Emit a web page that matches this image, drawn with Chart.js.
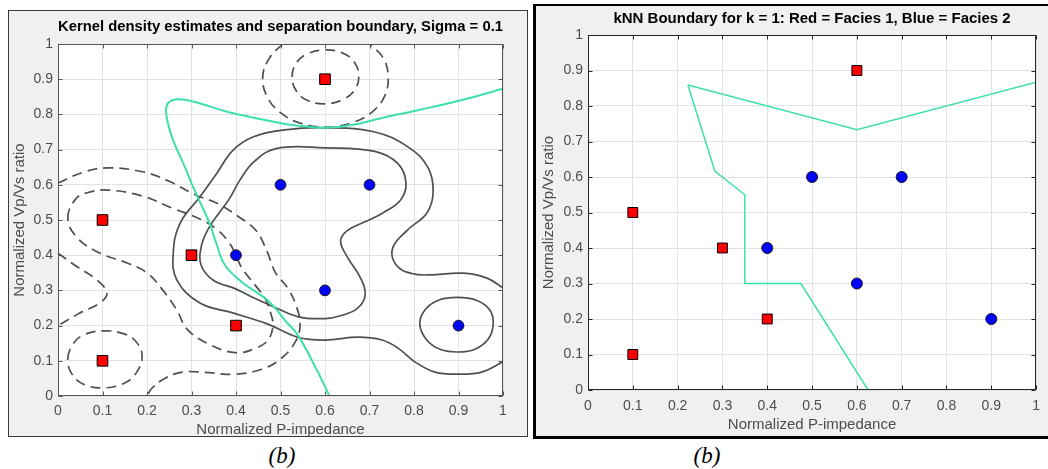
<!DOCTYPE html>
<html><head><meta charset="utf-8">
<script src="https://cdn.jsdelivr.net/npm/chart.js@4.4.1/dist/chart.umd.min.js"></script>
<style>
html,body{margin:0;padding:0;background:#fff;width:1048px;height:469px;overflow:hidden;position:relative;font-family:"Liberation Sans",Arial,sans-serif;}
#panelL{position:absolute;left:8px;top:10px;width:518px;height:425px;background:#f0f0f0;border:1px solid #3a3a3a;}
#panelR{position:absolute;left:533px;top:4px;width:520px;height:430px;background:#f0f0f0;border:2px solid #000;border-left-width:3px;border-bottom-width:3px;}
canvas{position:absolute;left:0;top:0;}
.cap{position:absolute;top:443px;line-height:26px;font-family:"Liberation Serif","Times New Roman",serif;font-style:italic;font-size:23px;color:#000;transform:translateX(-50%);white-space:nowrap;}
</style></head>
<body>
<div id="panelL"><canvas id="cL" width="518" height="425"></canvas></div>
<div id="panelR"><canvas id="cR" width="512" height="430"></canvas></div>
<div class="cap" style="left:282px">(b)</div>
<div class="cap" style="left:707px">(b)</div>
<script>
// ---------- data ----------
const xTickLabels = ['0','0.1','0.2','0.3','0.4','0.5','0.6','0.7','0.8','0.9','1'];
const yTickLabels = ['0','0.1','0.2','0.3','0.4','0.5','0.6','0.7','0.8','0.9','1'];
const facies1X = [0.1, 0.3, 0.4, 0.1, 0.6];
const facies1Y = [0.5, 0.4, 0.2, 0.1, 0.9];
const facies2X = [0.4, 0.5, 0.7, 0.6, 0.9];
const facies2Y = [0.4, 0.6, 0.6, 0.3, 0.2];

// KDE boundary (left panel)
const kdeBoundary = [[0.61,0],[0.584,0.068],[0.539,0.173],[0.51,0.215],[0.488,0.25],[0.465,0.278],[0.413,0.324],[0.375,0.372],[0.357,0.429],[0.342,0.486],[0.325,0.535],[0.305,0.59],[0.285,0.651],[0.256,0.736],[0.243,0.805],[0.248,0.833],[0.27,0.843],[0.308,0.835],[0.382,0.807],[0.443,0.79],[0.51,0.773],[0.548,0.767],[0.6,0.762],[0.661,0.77],[0.728,0.79],[0.809,0.812],[0.908,0.841],[1.0,0.873]];

// Facies 2 density contours (solid)
const f2Outer = [[1.0,0.307],[0.964,0.335],[0.91,0.349],[0.836,0.344],[0.795,0.348],[0.76,0.372],[0.752,0.42],[0.784,0.47],[0.829,0.52],[0.843,0.58],[0.831,0.65],[0.787,0.707],[0.712,0.75],[0.6,0.762],[0.51,0.756],[0.438,0.736],[0.393,0.698],[0.357,0.633],[0.319,0.566],[0.274,0.49],[0.259,0.406],[0.267,0.33],[0.319,0.264],[0.393,0.236],[0.47,0.205],[0.539,0.167],[0.6,0.159],[0.674,0.167],[0.728,0.159],[0.764,0.136],[0.802,0.097],[0.847,0.068],[0.9,0.062],[0.952,0.068],[1.0,0.097]];
const f2Inner = [[0.49,0.703],[0.6,0.705],[0.712,0.695],[0.764,0.66],[0.782,0.605],[0.77,0.557],[0.73,0.52],[0.69,0.495],[0.65,0.47],[0.635,0.44],[0.65,0.395],[0.68,0.335],[0.69,0.285],[0.672,0.248],[0.635,0.228],[0.6,0.22],[0.54,0.225],[0.477,0.258],[0.43,0.285],[0.398,0.305],[0.35,0.328],[0.322,0.37],[0.322,0.425],[0.34,0.48],[0.362,0.52],[0.385,0.56],[0.409,0.614],[0.44,0.665]];
const f2Small = [[0.813,0.205],[0.825,0.245],[0.855,0.272],[0.897,0.28],[0.94,0.272],[0.97,0.245],[0.978,0.205],[0.967,0.162],[0.937,0.133],[0.9,0.125],[0.86,0.132],[0.828,0.16]];

// Facies 1 density contours (dashed)
const f1TopInner = [[0.526,0.906],[0.535,0.945],[0.56,0.972],[0.6,0.983],[0.64,0.974],[0.666,0.948],[0.676,0.91],[0.667,0.87],[0.64,0.842],[0.6,0.83],[0.56,0.84],[0.535,0.868]];
const f1TopOuter = [[0.505,1.0],[0.475,0.96],[0.46,0.906],[0.47,0.85],[0.5,0.805],[0.545,0.775],[0.602,0.764],[0.66,0.776],[0.705,0.806],[0.734,0.852],[0.742,0.91],[0.73,0.962],[0.70,1.0]];
const f1LowLeft = [[0.022,0.107],[0.035,0.15],[0.06,0.175],[0.1,0.185],[0.145,0.178],[0.175,0.155],[0.189,0.115],[0.178,0.07],[0.15,0.037],[0.1,0.023],[0.055,0.035],[0.03,0.065]];
const f1MidInner = [[0.022,0.505],[0.04,0.56],[0.067,0.578],[0.112,0.585],[0.19,0.568],[0.256,0.534],[0.324,0.5],[0.36,0.47],[0.385,0.435],[0.40,0.40],[0.413,0.364],[0.443,0.315],[0.465,0.278],[0.478,0.235],[0.483,0.2],[0.472,0.159],[0.443,0.135],[0.398,0.123],[0.335,0.15],[0.29,0.19],[0.267,0.244],[0.236,0.3],[0.2,0.35],[0.155,0.378],[0.094,0.406],[0.043,0.45]];
const f1MidOuter = [[0,0.605],[0.055,0.635],[0.11,0.648],[0.19,0.637],[0.25,0.61],[0.308,0.572],[0.36,0.546],[0.405,0.51],[0.445,0.47],[0.47,0.41],[0.488,0.352],[0.517,0.305],[0.537,0.25],[0.544,0.2],[0.533,0.153],[0.50,0.105],[0.458,0.076],[0.398,0.062],[0.33,0.067],[0.279,0.068],[0.24,0.05],[0.211,0.022],[0.2,0.0]];
const f1LeftEdge = [[0,0.406],[0.043,0.367],[0.087,0.33],[0.11,0.293],[0.094,0.264],[0.049,0.236],[0,0.2]];

// kNN boundary (right panel)
const knnUpper = [[0.223,0.859],[0.6,0.733],[1.0,0.867]];
const knnLower = [[0.223,0.859],[0.283,0.617],[0.35,0.55],[0.35,0.3],[0.475,0.3],[0.625,0]];

// ---------- helpers ----------
const FONT = '"Liberation Sans", Arial, sans-serif';
const toXY = arr => arr.map(p => ({x: p[0], y: p[1]}));
const zipXY = (xs, ys) => xs.map((x, i) => ({x, y: ys[i]}));
const CYAN = '#3edfae';
const GRAY = '#4d4d4d';

const loopPlugin = {
  id: 'loopClose',
  afterDatasetUpdate(chart, args) {
    const ds = chart.data.datasets[args.index];
    if (ds.closed) {
      const line = args.meta.dataset;
      line._loop = true; line._fullLoop = true;
      line._segments = undefined; line._pointsUpdated = false; line._path = undefined;
    }
  }
};
const framePlugin = {
  id: 'frame',
  beforeDraw(chart) {
    const {ctx, chartArea: a} = chart;
    ctx.save(); ctx.fillStyle = '#fff';
    ctx.fillRect(a.left, a.top, a.right - a.left, a.bottom - a.top); ctx.restore();
  },
  afterDatasetsDraw(chart, args, o) {
    const {ctx, chartArea: a, scales: {x, y}} = chart;
    const L = Math.round(a.left) + 0.5, R = Math.round(a.right) - 0.5;
    const T = Math.round(a.top) + 0.5, B = Math.round(a.bottom) - 0.5;
    ctx.save(); ctx.strokeStyle = o.color; ctx.lineWidth = o.width; ctx.beginPath();
    x.ticks.forEach(t => { const p = Math.round(x.getPixelForValue(t.value)) + 0.5;
      ctx.moveTo(p, B); ctx.lineTo(p, B - o.len); ctx.moveTo(p, T); ctx.lineTo(p, T + o.len); });
    y.ticks.forEach(t => { const p = Math.round(y.getPixelForValue(t.value)) + 0.5;
      ctx.moveTo(L, p); ctx.lineTo(L + o.len, p); ctx.moveTo(R, p); ctx.lineTo(R - o.len, p); });
    ctx.stroke();
    ctx.strokeRect(L, T, R - L, B - T);
    ctx.restore();
  }
};

function lineDs(data, color, width, dash, closed, tension) {
  return {data: toXY(data), showLine: true, pointRadius: 0, borderColor: color, borderWidth: width,
    borderDash: dash || [], tension: tension, closed: closed, clip: 0, fill: false};
}

function makeChart(id, cfg) {
  return new Chart(document.getElementById(id), {
    type: 'scatter',
    data: {datasets: cfg.datasets},
    plugins: [loopPlugin, framePlugin],
    options: {
      responsive: false, animation: false, events: [],
      layout: {padding: cfg.pad},
      plugins: {
        legend: {display: false}, tooltip: {enabled: false},
        title: {display: true, text: cfg.title, fullSize: false, color: '#000',
          font: {family: FONT, size: 15, weight: 'bold'}, padding: cfg.titlePad},
        frame: {color: cfg.axisColor, width: 1, len: 4}
      },
      scales: {
        x: {type: 'linear', min: 0, max: 1,
          afterFit: s => { s.height = cfg.xH; },
          grid: {color: '#e2e2e2', drawTicks: false}, border: {display: false},
          ticks: {stepSize: 0.1, maxRotation: 0, autoSkip: false, padding: cfg.xTickPad, color: GRAY,
            font: {family: FONT, size: 14}, callback: (v, i) => xTickLabels[i]},
          title: {display: true, text: 'Normalized P-impedance', color: GRAY,
            font: {family: FONT, size: 15}, padding: {top: 0, bottom: cfg.xTitlePad}}},
        y: {type: 'linear', min: 0, max: 1,
          afterFit: s => { s.width = cfg.yW; },
          grid: {color: '#e2e2e2', drawTicks: false}, border: {display: false},
          ticks: {stepSize: 0.1, autoSkip: false, padding: 5, color: GRAY,
            font: {family: FONT, size: 14}, callback: (v, i) => yTickLabels[i]},
          title: {display: true, text: 'Normalized Vp/Vs ratio', color: GRAY,
            font: {family: FONT, size: 15}, padding: {top: cfg.yTitlePad, bottom: 0}}}
      }
    }
  });
}

const redSquares = (r) => ({data: zipXY(facies1X, facies1Y), pointStyle: 'rect', pointRadius: r,
  backgroundColor: '#ff0000', borderColor: '#000', borderWidth: 1, showLine: false});
const blueDots = (r) => ({data: zipXY(facies2X, facies2Y), pointStyle: 'circle', pointRadius: r,
  backgroundColor: '#0000ff', borderColor: '#1a1a1a', borderWidth: 1, showLine: false});

const DASH = [10, 6];
const CG = '#505050';
makeChart('cL', {
  title: 'Kernel density estimates and separation boundary, Sigma = 0.1',
  pad: {left: 0, right: 24, top: 0, bottom: 0}, titlePad: {top: 7, bottom: 8},
  xH: 40, yW: 49, xTickPad: 7, xTitlePad: -3, yTitlePad: 2, axisColor: '#555',
  datasets: [
    redSquares(7.5), blueDots(5.4),
    lineDs(kdeBoundary, CYAN, 2, null, false, 0.4),
    lineDs(f2Outer, CG, 1.7, null, false, 0.4),
    lineDs(f2Inner, CG, 1.7, null, true, 0.4),
    lineDs(f2Small, CG, 1.7, null, true, 0.4),
    lineDs(f1TopInner, CG, 1.7, DASH, true, 0.4),
    lineDs(f1TopOuter, CG, 1.7, DASH, false, 0.4),
    lineDs(f1LowLeft, CG, 1.7, DASH, true, 0.4),
    lineDs(f1MidInner, CG, 1.7, DASH, true, 0.4),
    lineDs(f1MidOuter, CG, 1.7, DASH, false, 0.4),
    lineDs(f1LeftEdge, CG, 1.7, DASH, false, 0.4)
  ]
});
makeChart('cR', {
  title: 'kNN Boundary for k = 1: Red = Facies 1, Blue = Facies 2',
  pad: {left: 0, right: 10, top: 0, bottom: 0}, titlePad: {top: 4, bottom: 7},
  xH: 46, yW: 52, xTickPad: 8, xTitlePad: 2, yTitlePad: 4, axisColor: '#262626',
  datasets: [
    redSquares(7), blueDots(5.5),
    lineDs(knnUpper, CYAN, 1.5, null, false, 0),
    lineDs(knnLower, CYAN, 1.5, null, false, 0)
  ]
});
</script>
</body></html>
